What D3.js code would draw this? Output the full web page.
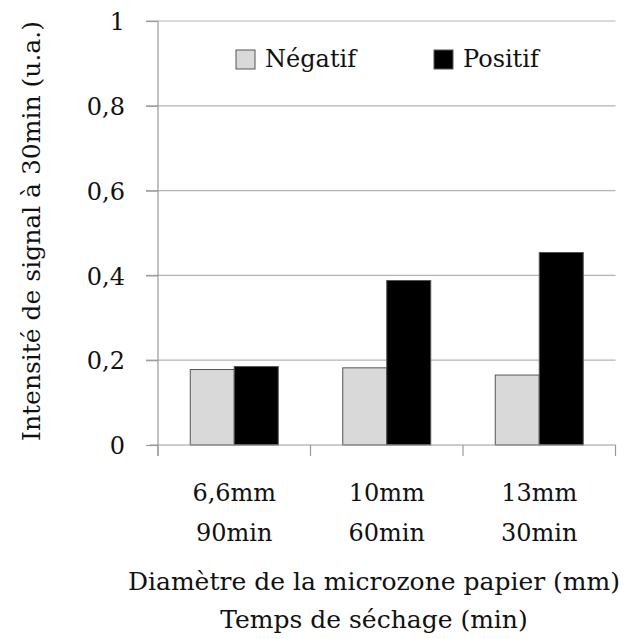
<!DOCTYPE html>
<html><head><meta charset="utf-8">
<script src="https://cdn.jsdelivr.net/npm/d3@7"></script>
<style>
body{margin:0;background:#fff;}
svg text{font-family:"DejaVu Serif",serif;fill:#111;}
</style></head>
<body><svg id="c" width="626" height="639"></svg>
<script>
const categories = ["6,6mm|90min", "10mm|60min", "13mm|30min"];
const series = ["Négatif", "Positif"];
const negatif = [0.178, 0.182, 0.165];
const positif = [0.185, 0.388, 0.454];
const yTicks = [0, 0.2, 0.4, 0.6, 0.8, 1];
const yTickLabels = ["0", "0,2", "0,4", "0,6", "0,8", "1"];
const colors = ["#d9d9d9", "#000000"];

const svg = d3.select("#c");
const m = {l:158, r:615.5, t:21, b:445};
const x = d3.scaleBand().domain(categories).range([m.l, m.r]).paddingInner(0).paddingOuter(0);
const xs = d3.scaleBand().domain(series).range([0, x.bandwidth()]).paddingInner(0).paddingOuter(0.733);
const y = d3.scaleLinear().domain([0,1]).range([m.b, m.t]);

svg.append("g").selectAll("line").data(yTicks.slice(1)).join("line")
  .attr("x1", m.l-12).attr("x2", m.r).attr("y1", d=>y(d)).attr("y2", d=>y(d))
  .attr("stroke", "#b3b3b3").attr("stroke-width", 1.2);

const ya = d3.axisLeft(y).tickValues(yTicks).tickFormat((d,i)=>yTickLabels[i]).tickSize(8).tickPadding(25);
const gy = svg.append("g").attr("transform", `translate(${m.l},0)`).call(ya);
gy.attr("font-family", null);
gy.select(".domain").remove();
gy.selectAll(".tick line").attr("stroke", "#999").attr("stroke-width",1.2).attr("x1",-12).attr("x2",0);
gy.selectAll(".tick text").attr("font-size", 24).attr("fill","#111").attr("dy","0.36em");
svg.append("line").attr("x1", m.l).attr("x2", m.l).attr("y1", m.t).attr("y2", m.b+11)
  .attr("stroke", "#999").attr("stroke-width", 1.2);

const data = categories.map((c,i)=>({c, vals:[negatif[i], positif[i]]}));
const gb = svg.append("g");
data.forEach(d=>{
  gb.selectAll(null).data(d.vals).join("rect")
    .attr("x", (v,j)=>x(d.c)+xs(series[j]))
    .attr("width", xs.bandwidth())
    .attr("y", v=>y(v)).attr("height", v=>y(0)-y(v))
    .attr("fill", (v,j)=>colors[j])
    .attr("stroke", "#555").attr("stroke-width", 1);
});

svg.append("line").attr("x1", m.l-8).attr("x2", m.r).attr("y1", m.b).attr("y2", m.b)
  .attr("stroke", "#999").attr("stroke-width", 1.2);
const bounds = [m.l, ...categories.map(c=>x(c)+x.bandwidth())];
svg.append("g").selectAll("line").data(bounds).join("line")
  .attr("x1", d=>d).attr("x2", d=>d).attr("y1", m.b).attr("y2", m.b+11)
  .attr("stroke", "#999").attr("stroke-width", 1.2);
const gl = svg.append("g");
categories.forEach(c=>{
  c.split("|").forEach((p,k)=>{
    gl.append("text").attr("x", x(c)+x.bandwidth()/2).attr("y", 501+k*40)
      .attr("text-anchor","middle").attr("font-size",24).text(p);
  });
});

svg.append("text").attr("x", 374).attr("y", 590).attr("text-anchor","middle").attr("font-size",25)
  .text("Diamètre de la microzone papier (mm)");
svg.append("text").attr("x", 374).attr("y", 628).attr("text-anchor","middle").attr("font-size",25)
  .text("Temps de séchage (min)");
svg.append("text").attr("transform","translate(40,231) rotate(-90)").attr("text-anchor","middle").attr("font-size",25)
  .text("Intensité de signal à 30min (u.a.)");

const lg = svg.append("g");
const lx = [236, 434];
series.forEach((s,i)=>{
  lg.append("rect").attr("x", lx[i]).attr("y", 50).attr("width",19).attr("height",19)
    .attr("fill", colors[i]).attr("stroke","#555").attr("stroke-width",1);
  lg.append("text").attr("x", lx[i]+29).attr("y", 67).attr("font-size",24).text(s);
});
</script></body></html>
